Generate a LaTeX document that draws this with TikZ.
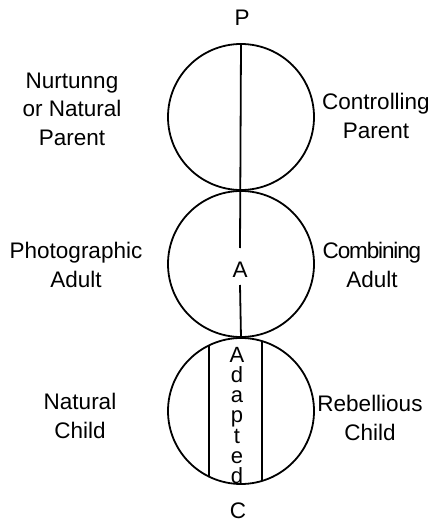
\documentclass[tikz,border=0pt]{standalone}
\usepackage{fontspec}
\setmainfont{Liberation Sans}
\begin{document}
\begin{tikzpicture}[x=1pt,y=-1pt,
  ring/.style={draw, circle, line width=1.8pt, minimum size=146pt, inner sep=0pt},
  lbl/.style={font=\fontsize{22.5}{28.5}\selectfont, align=center, inner sep=0pt},
  stack/.style={font=\fontsize{22}{20.2}\selectfont, align=center, inner sep=0pt},
  stroke/.style={line width=1.8pt}]
\useasboundingbox (0,0) rectangle (432,526);
% circles
\node[ring] (parent) at (241,117) {};
\node[ring] (adult) at (241,264) {};
\node[ring] (child) at (241,411) {};
% ego-state letters
\node[lbl] (P) at (242,18) {P};
\node[lbl] (A) at (240,270) {A};
\node[lbl] (C) at (238,511) {C};
% vertical line through parent and adult
\coordinate (gapTop) at (240,248);
\coordinate (gapBot) at (240,285);
\draw[stroke] (parent.north) -- (gapTop);
\draw[stroke] (gapBot) -- (adult.south);
% adapted band
\begin{scope}
\clip (child.center) circle (73pt);
\draw[stroke] (209,330) -- (209,490);
\draw[stroke] (262,330) -- (262,490);
\end{scope}
\node[stack, anchor=north] (adapted) at (237,347) {A\\d\\a\\p\\t\\e\\d};
% side labels
\node[lbl] (nurt) at (72,109) {Nurtunng\\or Natural\\Parent};
\node[lbl] (ctrl) at (376,116) {Controlling\\Parent};
\node[lbl] (photo) at (76,265) {Photographic\\Adult};
\node[lbl] (comb) at (372,265) {{\addfontfeature{LetterSpace=-5}Combining}\\Adult};
\node[lbl] (nat) at (80,416) {Natural\\Child};
\node[lbl] (reb) at (370,418) {Rebellious\\Child};
\end{tikzpicture}
\end{document}
